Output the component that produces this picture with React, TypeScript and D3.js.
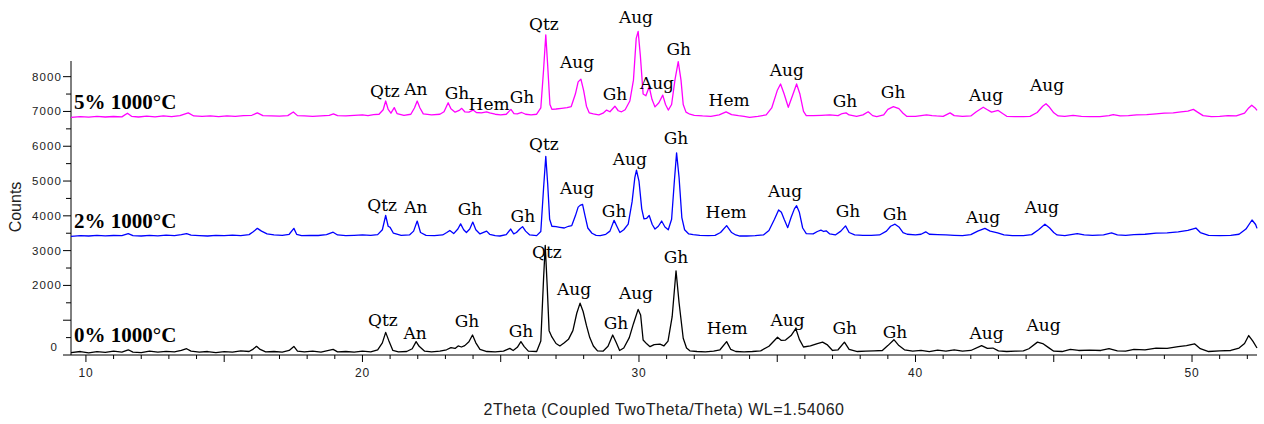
import React from "react";
import * as d3 from "d3";

// ---------- DATA ----------
const X_DOMAIN: [number, number] = [9.46, 52.35];
const Y_DOMAIN: [number, number] = [0, 8450];
const yTickLabels = [0, 2000, 3000, 4000, 5000, 6000, 7000, 8000];
const xTickLabels = [10, 20, 30, 40, 50];
const xAxisTitle = "2Theta (Coupled TwoTheta/Theta) WL=1.54060";
const yAxisTitle = "Counts";

// 5% 1000°C (magenta)
const series5: [number, number][] = [
  [9.46, 6830], [9.8, 6850], [10.1, 6835], [10.4, 6860], [10.7, 6840], [11.0, 6855], [11.3, 6845], [11.5, 6950], [11.65, 6860],
  [11.9, 6840], [12.2, 6865], [12.5, 6845], [12.8, 6870], [13.1, 6850], [13.4, 6880], [13.7, 6960], [13.9, 6870], [14.2, 6860],
  [14.5, 6875], [14.8, 6850], [15.1, 6870], [15.4, 6860], [15.7, 6880], [16.0, 6890], [16.2, 6960], [16.4, 6880], [16.7, 6870],
  [17.0, 6865], [17.3, 6880], [17.5, 6985], [17.65, 6880], [17.9, 6870], [18.2, 6860], [18.5, 6875], [18.8, 6890], [18.95, 6930],
  [19.1, 6880], [19.4, 6870], [19.7, 6885], [20.0, 6900], [20.2, 6880], [20.4, 6910], [20.6, 6920], [20.75, 7050], [20.84, 7300],
  [20.93, 7060], [21.03, 6950], [21.15, 7110], [21.25, 6940], [21.5, 6890], [21.75, 6920], [21.88, 7100], [21.98, 7300], [22.08, 7100],
  [22.2, 6930], [22.5, 6900], [22.8, 6920], [22.95, 6990], [23.1, 7250], [23.2, 7080], [23.35, 6980], [23.5, 7030], [23.59, 7090],
  [23.7, 6990], [23.85, 6980], [24.0, 7040], [24.12, 6970], [24.3, 6960], [24.49, 6990], [24.6, 6960], [24.8, 6920], [25.0, 6900],
  [25.2, 6920], [25.37, 7060], [25.48, 6940], [25.6, 6930], [25.76, 6970], [25.9, 6920], [26.1, 6900], [26.3, 6920], [26.45, 7100],
  [26.55, 8200], [26.63, 9200], [26.7, 8300], [26.78, 7200], [26.85, 7060], [27.0, 7070], [27.2, 7090], [27.4, 7110], [27.55, 7140],
  [27.7, 7500], [27.8, 7850], [27.9, 7930], [28.0, 7600], [28.1, 7150], [28.2, 6960], [28.35, 6930], [28.55, 6900], [28.7, 6950],
  [28.83, 7040], [28.95, 6990], [29.13, 7150], [29.25, 7020], [29.37, 6990], [29.5, 7050], [29.67, 7300], [29.8, 7900], [29.9, 9100],
  [29.97, 9300], [30.05, 8600], [30.15, 7500], [30.25, 7450], [30.37, 7710], [30.47, 7350], [30.58, 7130], [30.72, 7250], [30.86, 7470],
  [30.96, 7200], [31.06, 7040], [31.18, 7200], [31.3, 7900], [31.42, 8430], [31.52, 7900], [31.6, 7200], [31.7, 6980], [31.84, 6920],
  [32.0, 6890], [32.3, 6870], [32.6, 6860], [32.9, 6900], [33.15, 6990], [33.35, 6910], [33.6, 6880], [33.8, 6860], [34.0, 6830],
  [34.3, 6860], [34.6, 6900], [34.8, 7100], [35.0, 7600], [35.12, 7790], [35.25, 7500], [35.4, 7120], [35.55, 7450], [35.7, 7790],
  [35.82, 7500], [35.95, 7000], [36.05, 6880], [36.3, 6880], [36.6, 6890], [36.9, 6900], [37.2, 6880], [37.35, 6940], [37.49, 6960],
  [37.6, 6900], [37.87, 6860], [38.1, 6900], [38.29, 6990], [38.45, 6880], [38.6, 6850], [38.85, 6900], [39.0, 7060], [39.2, 7140],
  [39.4, 7080], [39.55, 6950], [39.68, 6860], [40.0, 6860], [40.2, 6880], [40.4, 6900], [40.6, 6880], [40.76, 6870], [41.0, 6860],
  [41.25, 6960], [41.4, 6880], [41.7, 6860], [42.0, 6870], [42.2, 6990], [42.45, 7120], [42.6, 7050], [42.75, 6980], [42.99, 7030],
  [43.15, 6940], [43.3, 6860], [43.6, 6850], [43.9, 6850], [44.14, 6860], [44.4, 6970], [44.6, 7150], [44.72, 7220], [44.85, 7120],
  [45.0, 6960], [45.16, 6870], [45.4, 6860], [45.7, 6890], [46.0, 6860], [46.3, 6850], [46.67, 6850], [47.0, 6880], [47.15, 6910],
  [47.4, 6870], [47.7, 6880], [48.0, 6900], [48.36, 6910], [48.7, 6930], [49.0, 6950], [49.32, 6960], [49.6, 6990], [49.85, 7010],
  [50.05, 7060], [50.2, 6980], [50.4, 6880], [50.7, 6850], [51.0, 6860], [51.3, 6880], [51.6, 6870], [51.9, 6950], [52.05, 7100],
  [52.16, 7180], [52.28, 7100], [52.35, 7030],
];

// 2% 1000°C (blue)
const series2: [number, number][] = [
  [9.46, 3410], [9.8, 3430], [10.1, 3420], [10.4, 3440], [10.7, 3425], [11.0, 3435], [11.3, 3430], [11.53, 3490], [11.7, 3430],
  [12.0, 3420], [12.3, 3440], [12.6, 3425], [12.9, 3445], [13.2, 3430], [13.45, 3460], [13.64, 3490], [13.8, 3445], [14.1, 3430],
  [14.4, 3420], [14.7, 3440], [15.0, 3430], [15.3, 3445], [15.6, 3430], [15.9, 3460], [16.05, 3540], [16.2, 3640], [16.35, 3560],
  [16.55, 3480], [16.8, 3450], [17.1, 3440], [17.35, 3470], [17.52, 3640], [17.62, 3470], [17.8, 3430], [18.1, 3440], [18.4, 3435],
  [18.7, 3460], [18.94, 3530], [19.1, 3450], [19.4, 3430], [19.7, 3440], [20.0, 3450], [20.3, 3440], [20.55, 3460], [20.72, 3600],
  [20.84, 4010], [20.93, 3700], [21.0, 3670], [21.12, 3500], [21.4, 3440], [21.7, 3450], [21.85, 3560], [21.98, 3850], [22.1, 3520],
  [22.3, 3440], [22.6, 3430], [22.9, 3450], [23.05, 3520], [23.16, 3580], [23.3, 3490], [23.45, 3620], [23.55, 3770], [23.66, 3600],
  [23.76, 3520], [23.88, 3620], [23.99, 3820], [24.1, 3600], [24.25, 3480], [24.49, 3560], [24.6, 3470], [24.8, 3430], [24.97, 3420],
  [25.2, 3460], [25.36, 3620], [25.47, 3480], [25.57, 3520], [25.69, 3620], [25.79, 3690], [25.9, 3560], [26.05, 3450], [26.3, 3430],
  [26.45, 3550], [26.55, 4800], [26.63, 5710], [26.7, 4900], [26.77, 3900], [26.85, 3700], [27.0, 3690], [27.14, 3670], [27.3, 3650],
  [27.45, 3700], [27.57, 3720], [27.7, 4000], [27.8, 4250], [27.87, 4300], [27.96, 4330], [28.05, 4000], [28.15, 3650], [28.3, 3500],
  [28.45, 3440], [28.6, 3430], [28.8, 3470], [28.95, 3560], [29.1, 3870], [29.2, 3700], [29.31, 3520], [29.45, 3600], [29.61, 3760],
  [29.75, 4400], [29.85, 5100], [29.91, 5310], [30.0, 5000], [30.1, 4200], [30.18, 3910], [30.28, 3930], [30.37, 4010], [30.48, 3750],
  [30.58, 3620], [30.7, 3700], [30.82, 3850], [30.94, 3680], [31.06, 3600], [31.18, 3900], [31.28, 5000], [31.36, 5810], [31.45, 5100],
  [31.55, 3950], [31.65, 3600], [31.8, 3480], [31.96, 3460], [32.2, 3440], [32.5, 3430], [32.75, 3440], [32.95, 3520], [33.17, 3720],
  [33.35, 3520], [33.5, 3450], [33.65, 3420], [33.9, 3420], [34.2, 3430], [34.5, 3450], [34.7, 3580], [34.9, 3900], [35.05, 4170],
  [35.15, 4100], [35.25, 3900], [35.38, 3660], [35.5, 3950], [35.62, 4200], [35.7, 4290], [35.8, 4100], [35.92, 3650], [36.05, 3490],
  [36.3, 3480], [36.45, 3550], [36.58, 3590], [36.68, 3550], [36.77, 3570], [36.9, 3480], [37.1, 3450], [37.3, 3560], [37.47, 3710],
  [37.6, 3520], [37.8, 3450], [38.1, 3440], [38.4, 3440], [38.7, 3450], [38.95, 3560], [39.1, 3700], [39.26, 3760], [39.4, 3680],
  [39.55, 3520], [39.7, 3470], [40.0, 3450], [40.2, 3470], [40.37, 3540], [40.5, 3470], [40.8, 3460], [41.1, 3450], [41.4, 3440],
  [41.7, 3430], [42.0, 3460], [42.25, 3560], [42.51, 3640], [42.7, 3560], [42.97, 3510], [43.2, 3450], [43.5, 3430], [43.9, 3430],
  [44.2, 3460], [44.45, 3600], [44.68, 3760], [44.85, 3650], [45.0, 3520], [45.12, 3450], [45.4, 3430], [45.85, 3490], [46.1, 3450],
  [46.4, 3440], [46.8, 3450], [47.09, 3510], [47.3, 3450], [47.6, 3440], [47.9, 3460], [48.3, 3470], [48.7, 3500], [49.1, 3510],
  [49.5, 3540], [49.85, 3580], [50.14, 3650], [50.3, 3520], [50.6, 3440], [51.0, 3430], [51.4, 3440], [51.7, 3470], [51.95, 3620],
  [52.17, 3880], [52.3, 3750], [52.35, 3640],
];

// 0% 1000°C (black)
const series0: [number, number][] = [
  [9.46, 70], [9.8, 100], [10.1, 60], [10.4, 95], [10.7, 75], [11.0, 110], [11.3, 80], [11.53, 150], [11.7, 85], [12.0, 70],
  [12.3, 110], [12.6, 80], [12.9, 105], [13.2, 90], [13.45, 130], [13.64, 180], [13.8, 110], [14.1, 80], [14.4, 100], [14.7, 70],
  [15.0, 95], [15.3, 80], [15.6, 120], [15.9, 100], [16.05, 170], [16.17, 250], [16.3, 160], [16.5, 90], [16.8, 100], [17.1, 80],
  [17.35, 130], [17.52, 245], [17.65, 110], [17.9, 90], [18.2, 110], [18.5, 80], [18.7, 120], [18.94, 160], [19.1, 90], [19.4, 100],
  [19.7, 80], [20.0, 110], [20.3, 90], [20.55, 150], [20.72, 350], [20.84, 650], [20.95, 420], [21.1, 130], [21.3, 90], [21.6, 100],
  [21.8, 180], [21.94, 385], [22.05, 250], [22.25, 110], [22.5, 90], [22.8, 110], [23.04, 150], [23.2, 210], [23.35, 190], [23.46, 260],
  [23.58, 230], [23.7, 270], [23.85, 380], [23.98, 575], [24.1, 350], [24.25, 160], [24.5, 100], [24.8, 90], [25.1, 110], [25.33, 190],
  [25.45, 130], [25.6, 220], [25.73, 385], [25.85, 240], [26.0, 110], [26.3, 100], [26.45, 400], [26.55, 2200], [26.61, 3150], [26.68, 2000],
  [26.75, 700], [26.85, 520], [27.0, 330], [27.14, 260], [27.3, 350], [27.45, 450], [27.61, 700], [27.75, 1200], [27.87, 1490], [27.98, 1250],
  [28.1, 850], [28.22, 500], [28.35, 260], [28.5, 120], [28.7, 110], [28.88, 250], [29.05, 575], [29.18, 350], [29.3, 130], [29.45, 200],
  [29.65, 500], [29.8, 900], [29.97, 1310], [30.06, 1150], [30.15, 430], [30.28, 320], [30.4, 240], [30.55, 300], [30.76, 310], [30.9, 260],
  [31.05, 400], [31.2, 1100], [31.34, 2420], [31.45, 1500], [31.6, 480], [31.72, 200], [31.84, 120], [32.1, 100], [32.4, 90], [32.7, 110],
  [32.93, 150], [33.17, 385], [33.32, 160], [33.5, 100], [33.8, 90], [34.1, 100], [34.4, 120], [34.7, 250], [35.01, 510], [35.15, 420],
  [35.3, 430], [35.5, 560], [35.67, 760], [35.8, 450], [35.95, 230], [36.2, 260], [36.45, 330], [36.64, 370], [36.8, 300], [37.0, 130],
  [37.2, 150], [37.43, 370], [37.6, 160], [37.9, 100], [38.2, 110], [38.5, 120], [38.8, 130], [39.0, 270], [39.22, 440], [39.4, 270],
  [39.6, 150], [39.9, 110], [40.2, 130], [40.5, 100], [40.8, 140], [41.1, 110], [41.4, 150], [41.7, 110], [42.0, 130], [42.39, 270],
  [42.6, 190], [42.8, 200], [43.0, 120], [43.3, 100], [43.6, 110], [43.9, 120], [44.1, 180], [44.41, 370], [44.6, 330], [44.8, 220],
  [45.0, 110], [45.3, 100], [45.6, 160], [45.9, 130], [46.3, 140], [46.7, 130], [47.0, 180], [47.3, 120], [47.6, 110], [47.9, 160],
  [48.3, 150], [48.7, 200], [49.1, 190], [49.5, 240], [49.8, 270], [50.09, 320], [50.3, 180], [50.6, 100], [51.0, 120], [51.4, 130],
  [51.7, 200], [51.9, 330], [52.05, 560], [52.2, 400], [52.35, 200],
];

// Phase annotations: [text, 2theta, counts at text baseline]
const labels5: [string, number, number][] = [
  ["Qtz", 20.81, 7416], ["An", 21.93, 7473], ["Gh", 23.42, 7358], ["Hem", 24.58, 7042], ["Gh", 25.77, 7243],
  ["Qtz", 26.56, 9342], ["Aug", 27.76, 8250], ["Gh", 29.13, 7330], ["Aug", 29.89, 9543], ["Aug", 30.65, 7646],
  ["Gh", 31.44, 8623], ["Hem", 33.26, 7157], ["Aug", 35.35, 8020], ["Gh", 37.45, 7129], ["Gh", 39.19, 7387],
  ["Aug", 42.55, 7301], ["Aug", 44.76, 7588],
];
const labels2: [string, number, number][] = [
  ["Qtz", 20.71, 4148], ["An", 21.93, 4090], ["Gh", 23.89, 4024], ["Gh", 25.8, 3832], ["Qtz", 26.56, 5893],
  ["Aug", 27.76, 4619], ["Gh", 29.1, 3975], ["Aug", 29.67, 5461], ["Gh", 31.34, 6065], ["Hem", 33.15, 3947],
  ["Aug", 35.28, 4550], ["Gh", 37.56, 3975], ["Gh", 39.26, 3880], ["Aug", 42.44, 3803], ["Aug", 44.57, 4073],
];
const labels0: [string, number, number][] = [
  ["Qtz", 20.74, 834], ["An", 21.9, 460], ["Gh", 23.78, 813], ["Gh", 25.73, 526], ["Qtz", 26.67, 2780],
  ["Aug", 27.65, 1725], ["Gh", 29.17, 739], ["Aug", 29.89, 1601], ["Gh", 31.34, 2653], ["Hem", 33.19, 604],
  ["Aug", 35.37, 834], ["Gh", 37.44, 595], ["Gh", 39.26, 480], ["Aug", 42.57, 451], ["Aug", 44.63, 698],
];

const seriesNames = ["5% 1000°C", "2% 1000°C", "0% 1000°C"];
const seriesNameCounts = [7070, 3650, 374];
const seriesColors = ["#ff00ff", "#0000ff", "#000000"];

// ---------- CHART ----------
const W = 1264;
const H = 424;

export default function App() {
  const x = d3.scaleLinear().domain(X_DOMAIN).range([71, 1257]);
  const y = d3.scaleLinear().domain(Y_DOMAIN).range([355, 61]);
  const line = d3
    .line<[number, number]>()
    .x((d) => x(d[0]))
    .y((d) => y(d[1]));

  const allSeries = [series5, series2, series0];
  const allLabels = [labels5, labels2, labels0];

  const minorX = d3.range(10, 53, 1);
  const minorY = d3.range(0, 8001, 500);

  const tickFont = "'Liberation Sans', Arial, sans-serif";
  const serif = "'Liberation Serif', 'Times New Roman', serif";
  const labelSerif = "'DejaVu Serif', 'Liberation Serif', serif";

  return (
    <svg
      width={W}
      height={H}
      style={{ position: "absolute", left: 0, top: 0, background: "#fff" }}
    >
      <rect x={0} y={0} width={W} height={H} fill="#fff" />
      {/* axes */}
      <line x1={71} x2={71} y1={y(Y_DOMAIN[1])} y2={y(0)} stroke="#000" strokeWidth={1} />
      <line x1={71} x2={1257} y1={y(0)} y2={y(0)} stroke="#000" strokeWidth={1} />
      {minorY.map((v) => (
        <line
          key={"yt" + v}
          x1={v % 1000 === 0 ? 63 : 66}
          x2={71}
          y1={y(v)}
          y2={y(v)}
          stroke="#000"
          strokeWidth={1}
        />
      ))}
      {yTickLabels.map((v) => (
        <text
          key={"yl" + v}
          x={v === 0 ? 58 : 62}
          y={y(v) + (v === 0 ? -8 : 0)}
          dy="0.35em"
          textAnchor="end"
          fontFamily={tickFont}
          fontSize={11.5}
          letterSpacing={1.1}
          fill="#222"
        >
          {v}
        </text>
      ))}
      {minorX.map((v) => (
        <line
          key={"xt" + v}
          x1={x(v)}
          x2={x(v)}
          y1={y(0)}
          y2={y(0) + (v % 5 === 0 ? 7 : 4)}
          stroke="#000"
          strokeWidth={1}
        />
      ))}
      {xTickLabels.map((v) => (
        <text
          key={"xl" + v}
          x={x(v)}
          y={377}
          textAnchor="middle"
          fontFamily={tickFont}
          fontSize={12}
          letterSpacing={0.8}
          fill="#222"
        >
          {v}
        </text>
      ))}
      <text
        x={664}
        y={415}
        textAnchor="middle"
        fontFamily={tickFont}
        fontSize={16}
        letterSpacing={0.5}
        fill="#222"
      >
        {xAxisTitle}
      </text>
      <text
        transform="translate(21,207) rotate(-90)"
        textAnchor="middle"
        fontFamily={tickFont}
        fontSize={16}
        fill="#222"
      >
        {yAxisTitle}
      </text>

      {/* series */}
      {allSeries.map((s, i) => (
        <path
          key={"s" + i}
          d={line(s) || ""}
          fill="none"
          stroke={seriesColors[i]}
          strokeWidth={1.3}
          strokeLinejoin="round"
        />
      ))}

      {/* series names */}
      {seriesNames.map((n, i) => (
        <text
          key={"n" + i}
          x={74}
          y={y(seriesNameCounts[i])}
          fontFamily={serif}
          fontWeight="bold"
          fontSize={21}
          fill="#000"
        >
          {n}
        </text>
      ))}

      {/* phase labels */}
      {allLabels.map((ls, i) =>
        ls.map((l, j) => (
          <text
            key={"l" + i + "-" + j}
            x={x(l[1])}
            y={y(l[2])}
            textAnchor="middle"
            fontFamily={labelSerif}
            fontSize={17}
            fill="#000"
          >
            {l[0]}
          </text>
        ))
      )}
    </svg>
  );
}
